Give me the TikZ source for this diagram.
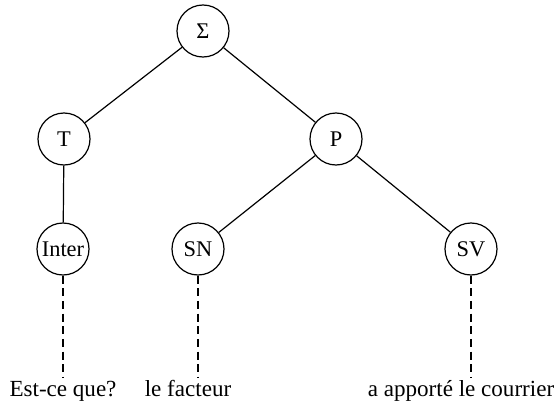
\documentclass[tikz,border=0pt]{standalone}
\usepackage{fontspec}
\setmainfont{Liberation Serif}
\begin{document}
\begin{tikzpicture}[x=0.75pt,y=-0.75pt,
  tnode/.style={circle,draw,line width=0.9pt,minimum size=39pt,inner sep=0pt,font=\fontsize{16.8}{19}\selectfont},
  edge/.style={line width=0.9pt},
  dline/.style={line width=1.1pt,dash pattern=on 6pt off 3.5pt},
  word/.style={anchor=base,inner sep=0pt,font=\fontsize{17.3}{20}\selectfont}]
\useasboundingbox (0,0) rectangle (558,407);
\node[tnode] (S) at (203,31) {Σ};
\node[tnode] (T) at (64,139) {T};
\node[tnode] (P) at (336,139) {P};
\node[tnode] (I) at (63,249) {Inter};
\node[tnode] (SN) at (198,249) {SN};
\node[tnode] (SV) at (471,249) {SV};
\draw[edge] (S) -- (T);
\draw[edge] (S) -- (P);
\draw[edge] (T) -- (I);
\draw[edge] (P) -- (SN);
\draw[edge] (P) -- (SV);
\coordinate (eI) at (63,377);
\coordinate (eSN) at (198,377);
\coordinate (eSV) at (471,377);
\draw[dline] (I.south) -- (eI);
\draw[dline] (SN.south) -- (eSN);
\draw[dline] (SV.south) -- (eSV);
\node[word] (w1) at (63,396) {Est-ce que?};
\node[word] (w2) at (188,396) {le facteur};
\node[word] (w3) at (461,396) {a apporté le courrier};
\end{tikzpicture}
\end{document}
